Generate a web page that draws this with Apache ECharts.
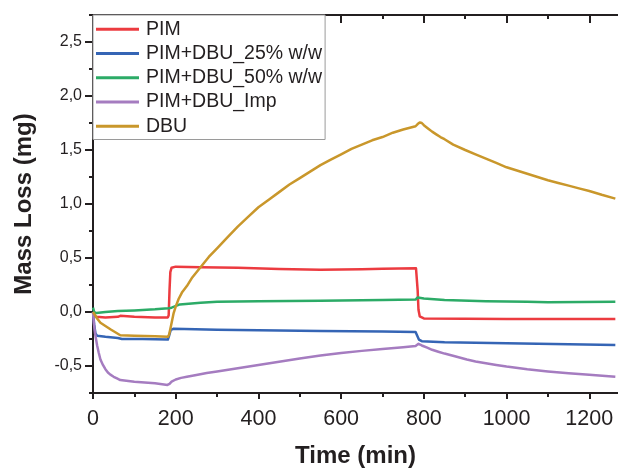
<!DOCTYPE html>
<html style="height: 100%">

<head>
    <meta charset="utf-8">
    <title>Mass Loss</title>
    <script src="https://cdn.jsdelivr.net/npm/echarts@6/dist/echarts.min.js"></script>
</head>

<body style="height: 100%; margin: 0; background: #fff">
    <div id="container" style="width: 618px; height: 468px"></div>
    <script type="text/javascript">

        // series names
        let seriesNames = ['PIM', 'PIM+DBU_25% w/w', 'PIM+DBU_50% w/w', 'PIM+DBU_Imp', 'DBU'];
        let seriesColors = ['#ec3b40', '#3565b5', '#2cab67', '#a57cc0', '#c9972b'];

        // [time (min), mass loss (mg)]
        let pim = [
            [0, 0], [3, -0.03], [8, -0.045], [30, -0.05], [60, -0.045], [66, -0.035], [100, -0.045],
            [150, -0.05], [181, -0.05], [183, -0.03], [185, 0.2], [187, 0.37], [190, 0.41], [200, 0.42],
            [260, 0.415], [350, 0.41], [450, 0.398], [550, 0.392], [650, 0.396], [700, 0.40], [781, 0.405],
            [783, 0.39], [785, 0.2], [787, 0.02], [790, -0.04], [800, -0.06], [900, -0.062], [1000, -0.065],
            [1263, -0.065]
        ];
        let dbu25 = [
            [0, 0], [3, -0.12], [6, -0.2], [10, -0.22], [30, -0.23], [60, -0.24], [70, -0.25], [120, -0.25],
            [181, -0.255], [184, -0.22], [188, -0.165], [195, -0.155], [300, -0.165], [550, -0.175],
            [700, -0.18], [780, -0.185], [783, -0.2], [788, -0.255], [795, -0.27], [850, -0.28],
            [1000, -0.29], [1263, -0.305]
        ];
        let dbu50 = [
            [0, 0.04], [3, 0.0], [8, -0.01], [30, 0.0], [60, 0.01], [100, 0.015], [150, 0.025], [182, 0.035],
            [190, 0.04], [210, 0.07], [260, 0.085], [300, 0.095], [400, 0.10], [550, 0.105], [700, 0.11],
            [780, 0.115], [785, 0.135], [800, 0.125], [850, 0.11], [950, 0.10], [1050, 0.095], [1100, 0.09],
            [1263, 0.095]
        ];
        let dbuImp = [
            [0, 0], [2, -0.1], [5, -0.2], [10, -0.31], [14, -0.38], [18, -0.44], [24, -0.49], [30, -0.53],
            [36, -0.56], [42, -0.58], [50, -0.60], [58, -0.615], [66, -0.63], [100, -0.645], [150, -0.66],
            [180, -0.675], [185, -0.665], [190, -0.645], [200, -0.625], [213, -0.61], [227, -0.6],
            [250, -0.583], [275, -0.565], [300, -0.55], [350, -0.52], [400, -0.49], [450, -0.46],
            [500, -0.43], [550, -0.403], [600, -0.38], [650, -0.36], [700, -0.343], [750, -0.327],
            [780, -0.315], [787, -0.295], [795, -0.31], [808, -0.33], [820, -0.35], [835, -0.368],
            [850, -0.385], [875, -0.41], [904, -0.44], [925, -0.458], [950, -0.475], [975, -0.49],
            [1000, -0.505], [1050, -0.53], [1100, -0.55], [1150, -0.567], [1200, -0.58], [1263, -0.60]
        ];
        let dbu = [
            [0, 0], [5, -0.03], [10, -0.06], [18, -0.10], [30, -0.13], [42, -0.16], [55, -0.19], [66, -0.215],
            [100, -0.22], [150, -0.225], [181, -0.23], [184, -0.21], [189, -0.12], [195, -0.01], [200, 0.05],
            [207, 0.12], [215, 0.18], [227, 0.24], [240, 0.32], [259, 0.41], [280, 0.51], [300, 0.59],
            [325, 0.69], [350, 0.79], [375, 0.88], [400, 0.97], [425, 1.04], [450, 1.11], [475, 1.18],
            [500, 1.24], [525, 1.30], [550, 1.36], [575, 1.41], [600, 1.46], [625, 1.51], [650, 1.55],
            [675, 1.59], [700, 1.62], [725, 1.66], [750, 1.69], [780, 1.72], [785, 1.74], [790, 1.755],
            [795, 1.75], [800, 1.73], [810, 1.70], [820, 1.67], [830, 1.645], [840, 1.62], [850, 1.60],
            [871, 1.55], [900, 1.50], [925, 1.46], [950, 1.42], [975, 1.38], [1000, 1.34], [1025, 1.31],
            [1050, 1.28], [1075, 1.25], [1100, 1.22], [1125, 1.195], [1150, 1.17], [1175, 1.145],
            [1200, 1.12], [1230, 1.085], [1263, 1.05]
        ];
        let seriesData = [pim, dbu25, dbu50, dbuImp, dbu];

        // labelled y ticks
        let yLabelValues = [-0.5, 0, 0.5, 1.0, 1.5, 2.0, 2.5];

        let ink = '#231f20';
        let font = "'Liberation Sans', Arial, sans-serif";

        let dom = document.getElementById("container");
        let chart = echarts.init(dom, null, { renderer: 'canvas' });

        let xBase = {
            type: 'value',
            min: 0,
            max: 1400,      // axis runs past the right edge, as in the cropped original
            interval: 200,
            splitLine: { show: false },
            axisLine: { onZero: false, lineStyle: { color: ink, width: 2 } },
            minorTick: { show: true, splitNumber: 2, length: 4, lineStyle: { color: ink, width: 2 } }
        };

        chart.setOption({
            animation: false,
            backgroundColor: '#fff',
            textStyle: { fontFamily: font },
            grid: { left: 93, top: 15, width: 579, height: 378, outerBoundsMode: 'none' },
            legend: {
                data: seriesNames,
                orient: 'vertical',
                left: 93,
                top: 15,
                padding: [2, 3, 1, 3],
                itemGap: 0,
                itemWidth: 43,
                itemHeight: 3,
                icon: 'rect',
                borderColor: '#9a9a9a',
                borderWidth: 1,
                backgroundColor: '#fff',
                textStyle: { fontSize: 19.5, color: ink, lineHeight: 24.3, fontFamily: font, padding: [0, 0, 0, 2] }
            },
            xAxis: [
                Object.assign({}, xBase, {
                    position: 'bottom',
                    name: 'Time (min)',
                    nameLocation: 'middle',
                    nameGap: 51,
                    // the visible part of the axis is narrower than the grid, so pull the title left
                    nameTextStyle: { fontSize: 24, fontWeight: 'bold', color: ink, fontFamily: font, padding: [0, 54, 0, 0] },
                    axisTick: { length: 6, lineStyle: { color: ink, width: 2 } },
                    axisLabel: { fontSize: 21.5, color: ink, margin: 15, showMaxLabel: false, formatter: v => String(v) }
                }),
                Object.assign({}, xBase, {
                    position: 'top',
                    axisTick: { inside: true, length: 8, lineStyle: { color: ink, width: 2 } },
                    minorTick: { show: true, splitNumber: 2, length: 4, lineStyle: { color: ink, width: 2 } },
                    axisLabel: { show: false }
                })
            ],
            yAxis: [
                {
                    type: 'value',
                    min: -0.75,
                    max: 2.75,
                    position: 'left',
                    name: 'Mass Loss (mg)',
                    nameLocation: 'middle',
                    nameGap: 57,
                    nameTextStyle: { fontSize: 24, fontWeight: 'bold', color: ink, fontFamily: font },
                    splitLine: { show: false },
                    axisLine: { show: true, onZero: false, lineStyle: { color: ink, width: 2 } },
                    axisTick: { show: true, length: 8, customValues: yLabelValues, lineStyle: { color: ink, width: 2 } },
                    axisLabel: {
                        fontSize: 16, color: ink, margin: 11, customValues: yLabelValues,
                        formatter: v => v.toFixed(1).replace('.', ',')
                    }
                },
                {
                    // minor ticks halfway between the labelled ones
                    type: 'value',
                    min: -0.75,
                    max: 2.75,
                    interval: 0.5,
                    position: 'left',
                    splitLine: { show: false },
                    axisLine: { show: false, onZero: false },
                    axisTick: { show: true, length: 4, lineStyle: { color: ink, width: 2 } },
                    axisLabel: { show: false }
                }
            ],
            series: seriesNames.map((name, i) => ({
                name: name,
                type: 'line',
                data: seriesData[i],
                xAxisIndex: 0,
                yAxisIndex: 0,
                showSymbol: false,
                color: seriesColors[i],
                lineStyle: { width: 2.5, color: seriesColors[i], join: 'round' }
            }))
        });

    </script>
</body>

</html>
